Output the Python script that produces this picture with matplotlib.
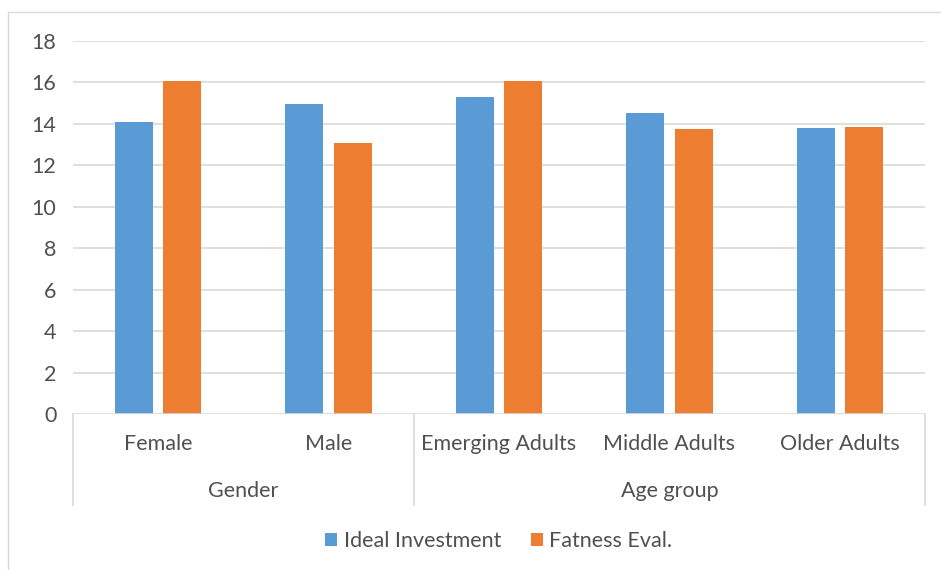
import matplotlib.pyplot as plt
from matplotlib.patches import Rectangle
from matplotlib.lines import Line2D
import numpy as np

plt.rcParams['font.family'] = ['Lato', 'DejaVu Sans']

categories = ["Female", "Male", "Emerging Adults", "Middle Adults", "Older Adults"]
groups = ["Gender", "Age group"]
group_spans = [(0, 2), (2, 5)]
ideal_investment = [14.1, 14.95, 15.3, 14.52, 13.78]
fatness_eval = [16.07, 13.08, 16.07, 13.75, 13.85]
yticks = [0, 2, 4, 6, 8, 10, 12, 14, 16, 18]

blue = "#5B9BD5"
orange = "#ED7D31"
grid = "#D9D9D9"
txt = "#505050"
fs = 15.5

W, H = 941, 570
fig = plt.figure(figsize=(W / 100, H / 100), dpi=100)

# outer chart frame (runs off the right and bottom edges)
fig.patches.append(Rectangle((8 / W, -0.1), 1.2, (H - 12) / H + 0.1,
                             transform=fig.transFigure, fill=False,
                             edgecolor="#D9D9D9", lw=1))

ax = fig.add_axes([73 / W, (H - 414) / H, 852 / W, 373 / H])
x = np.arange(len(categories))
bw = 0.223
off = 0.142
ax.bar(x - off, ideal_investment, bw, color=blue, label="Ideal Investment", zorder=3)
ax.bar(x + off, fatness_eval, bw, color=orange, label="Fatness Eval.", zorder=3)

ax.set_xlim(-0.5, len(categories) - 0.5)
ax.set_ylim(0, 18)
ax.set_yticks(yticks)
ax.set_yticklabels([str(v) for v in yticks], fontsize=fs, color=txt)
ax.tick_params(axis="y", length=0, pad=12)
ax.tick_params(axis="x", length=0, labelbottom=False)
for v in yticks[1:]:
    ax.axhline(v, color=grid, lw=1.2, zorder=1)
for s in ax.spines.values():
    s.set_visible(False)
ax.axhline(0, color=grid, lw=1.2, zorder=4)

# category labels and group labels below the axis
to_ax = ax.get_xaxis_transform()
px = 1 / 373.0
for i, c in enumerate(categories):
    ax.text(i, -(444 - 414) * px, c, transform=to_ax, ha="center", va="center",
            fontsize=fs, color=txt)
for g, (a, b) in zip(groups, group_spans):
    ax.text((a + b - 1) / 2, -(491 - 414) * px, g, transform=to_ax, ha="center",
            va="center", fontsize=fs, color=txt)
for xs in [-0.5, 1.5, 4.5]:
    ax.add_line(Line2D([xs, xs], [0, -(505 - 414) * px], transform=to_ax,
                       color=grid, lw=1.2, clip_on=False))

ax.legend(loc="center", bbox_to_anchor=(0.5, -(541 - 414) * px), ncol=2,
          frameon=False, fontsize=fs, handlelength=0.55, handleheight=0.6,
          handletextpad=0.3, columnspacing=1.4, labelcolor=txt)

fig.savefig("out.png", dpi=100, facecolor="white")
